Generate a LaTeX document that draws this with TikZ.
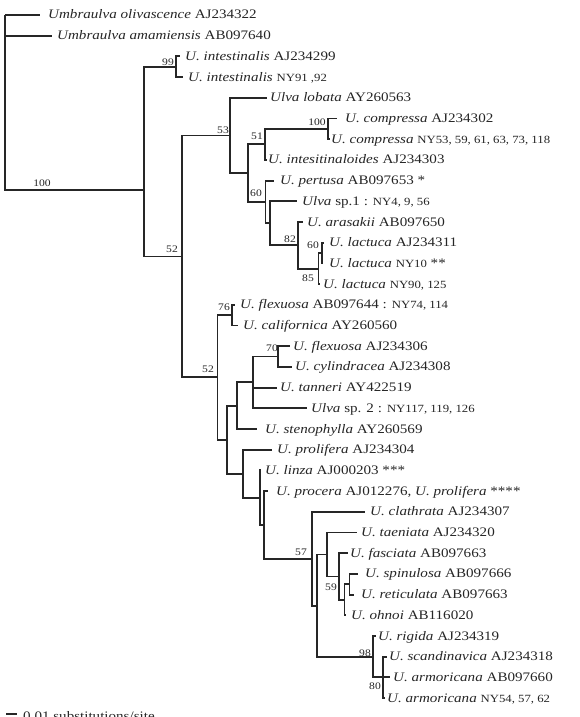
\documentclass[tikz,border=0pt]{standalone}
\usepackage{fontspec}
\setmainfont[FakeStretch=1.16]{Liberation Serif}
\newcommand\nysz{\fontsize{11}{13}\selectfont}
\definecolor{ink}{HTML}{262626}
\begin{document}
\begin{tikzpicture}[x=1pt,y=-1pt,
 br/.style={draw=ink,line width=1.85pt},
 lab/.style={anchor=base west,inner sep=0pt,text=ink,font=\fontsize{13}{15}\selectfont},
 boot/.style={anchor=center,inner sep=0pt,text=ink,font=\fontsize{10}{12}\selectfont}]
\fill[white] (0,0) rectangle (579,717);
\useasboundingbox (0,0) rectangle (579,717);
% internal nodes
\coordinate (root) at (5,15);
\coordinate (n100) at (144,190);
\coordinate (nInt) at (176,66.75);
\coordinate (n52a) at (182,256.45);
\coordinate (n53) at (230,135.5);
\coordinate (n248) at (248,173.2);
\coordinate (n51) at (265,144.4);
\coordinate (nComp) at (328,128.85);
\coordinate (n60) at (265.5,201.95);
\coordinate (nSp1) at (270,223.3);
\coordinate (n82) at (298,245.3);
\coordinate (n85) at (318.5,268.6);
\coordinate (nLac) at (322,253.05);
\coordinate (n52b) at (217.5,377.4);
\coordinate (n76) at (232,315.15);
\coordinate (n227) at (226.7,439.7);
\coordinate (nS) at (237,405.7);
\coordinate (nT) at (253,382.4);
\coordinate (n70) at (278,356.55);
\coordinate (nPro) at (243.3,473.7);
\coordinate (nL) at (260,497.65);
\coordinate (nP) at (264,524.9);
\coordinate (n57) at (311.7,558.7);
\coordinate (nQ) at (316.7,605.6);
\coordinate (nR) at (326.7,554.5);
\coordinate (n59) at (339,576.5);
\coordinate (nO) at (344.5,599.8);
\coordinate (nS2) at (349.5,584.25);
\coordinate (n98) at (373.3,656.7);
\coordinate (n80) at (383.3,677.4);
% tip ends
\coordinate (e1) at (40,15);
\coordinate (e2) at (52,35.7);
\coordinate (e3) at (180,56.4);
\coordinate (e4) at (183,77.1);
\coordinate (e5) at (267,97.8);
\coordinate (e6) at (337,118.5);
\coordinate (e7) at (330,139.2);
\coordinate (e8) at (266.5,159.9);
\coordinate (e9) at (274,180.6);
\coordinate (e10) at (297,201.3);
\coordinate (e11) at (303,222.0);
\coordinate (e12) at (324,242.7);
\coordinate (e13) at (323,263.4);
\coordinate (e14) at (320,284.1);
\coordinate (e15) at (235,304.8);
\coordinate (e16) at (238,325.5);
\coordinate (e17) at (290,346.2);
\coordinate (e18) at (292,366.9);
\coordinate (e19) at (277,387.6);
\coordinate (e20) at (307,408.3);
\coordinate (e21) at (257,429.0);
\coordinate (e22) at (272,449.7);
\coordinate (e23) at (261,470.4);
\coordinate (e24) at (268,491.1);
\coordinate (e25) at (365,511.8);
\coordinate (e26) at (357,532.5);
\coordinate (e27) at (348,553.2);
\coordinate (e28) at (358,573.9);
\coordinate (e29) at (354,594.6);
\coordinate (e30) at (346,615.3);
\coordinate (e31) at (376,636.0);
\coordinate (e32) at (387,656.7);
\coordinate (e33) at (390,677.4);
\coordinate (e34) at (385,698.1);
% branches
\draw[br] (root) |- (e1);
\draw[br] (root) |- (e2);
\draw[br] (root) |- (n100);
\draw[br] (n100) |- (nInt);
\draw[br] (n100) |- (n52a);
\draw[br] (nInt) |- (e3);
\draw[br] (nInt) |- (e4);
\draw[br] (n52a) |- (n53);
\draw[br] (n52a) |- (n52b);
\draw[br] (n53) |- (e5);
\draw[br] (n53) |- (n248);
\draw[br] (n248) |- (n51);
\draw[br] (n248) |- (n60);
\draw[br] (n51) |- (nComp);
\draw[br] (n51) |- (e8);
\draw[br] (nComp) |- (e6);
\draw[br] (nComp) |- (e7);
\draw[br] (n60) |- (e9);
\draw[br] (n60) |- (nSp1);
\draw[br] (nSp1) |- (e10);
\draw[br] (nSp1) |- (n82);
\draw[br] (n82) |- (e11);
\draw[br] (n82) |- (n85);
\draw[br] (n85) |- (nLac);
\draw[br] (n85) |- (e14);
\draw[br] (nLac) |- (e12);
\draw[br] (nLac) |- (e13);
\draw[br] (n52b) |- (n76);
\draw[br] (n52b) |- (n227);
\draw[br] (n76) |- (e15);
\draw[br] (n76) |- (e16);
\draw[br] (n227) |- (nS);
\draw[br] (n227) |- (nPro);
\draw[br] (nS) |- (nT);
\draw[br] (nS) |- (e21);
\draw[br] (nT) |- (n70);
\draw[br] (nT) |- (e19);
\draw[br] (nT) |- (e20);
\draw[br] (n70) |- (e17);
\draw[br] (n70) |- (e18);
\draw[br] (nPro) |- (e22);
\draw[br] (nPro) |- (nL);
\draw[br] (nL) |- (e23);
\draw[br] (nL) |- (nP);
\draw[br] (nP) |- (e24);
\draw[br] (nP) |- (n57);
\draw[br] (n57) |- (e25);
\draw[br] (n57) |- (nQ);
\draw[br] (nQ) |- (nR);
\draw[br] (nQ) |- (n98);
\draw[br] (nR) |- (e26);
\draw[br] (nR) |- (n59);
\draw[br] (n59) |- (e27);
\draw[br] (n59) |- (nO);
\draw[br] (nO) |- (nS2);
\draw[br] (nO) |- (e30);
\draw[br] (nS2) |- (e28);
\draw[br] (nS2) |- (e29);
\draw[br] (n98) |- (e31);
\draw[br] (n98) |- (n80);
\draw[br] (n80) |- (e32);
\draw[br] (n80) |- (e33);
\draw[br] (n80) |- (e34);
% tip labels
\node[lab] (t1) at (48,19) {\textit{Umbraulva olivascence} AJ234322};
\node[lab] (t2) at (57,39.7) {\textit{Umbraulva amamiensis} AB097640};
\node[lab] (t3) at (185,60.4) {\textit{U. intestinalis} AJ234299};
\node[lab] (t4) at (188,81.1) {\textit{U. intestinalis} {\nysz NY91 ,92}};
\node[lab] (t5) at (270,101.8) {\textit{Ulva lobata} AY260563};
\node[lab] (t6) at (345,122.5) {\textit{U. compressa} AJ234302};
\node[lab] (t7) at (331,143.2) {\textit{U. compressa} {\nysz NY53, 59, 61, 63, 73, 118}};
\node[lab] (t8) at (268,163.9) {\textit{U. intesitinaloides} AJ234303};
\node[lab] (t9) at (280,184.6) {\textit{U. pertusa} AB097653 *};
\node[lab] (t10) at (302,205.3) {\textit{Ulva} sp.1 : {\nysz NY4, 9, 56}};
\node[lab] (t11) at (307,226.0) {\textit{U. arasakii} AB097650};
\node[lab] (t12) at (329,246.7) {\textit{U. lactuca} AJ234311};
\node[lab] (t13) at (329,267.4) {\textit{U. lactuca} {\nysz NY10} **};
\node[lab] (t14) at (323,288.1) {\textit{U. lactuca} {\nysz NY90, 125}};
\node[lab] (t15) at (240,308.8) {\textit{U. flexuosa} AB097644 : {\nysz NY74, 114}};
\node[lab] (t16) at (243,329.5) {\textit{U. californica} AY260560};
\node[lab] (t17) at (293,350.2) {\textit{U. flexuosa} AJ234306};
\node[lab] (t18) at (295,370.9) {\textit{U. cylindracea} AJ234308};
\node[lab] (t19) at (280,391.6) {\textit{U. tanneri} AY422519};
\node[lab] (t20) at (311,412.3) {\textit{Ulva} sp. 2 : {\nysz NY117, 119, 126}};
\node[lab] (t21) at (265,433.0) {\textit{U. stenophylla} AY260569};
\node[lab] (t22) at (277,453.7) {\textit{U. prolifera} AJ234304};
\node[lab] (t23) at (265,474.4) {\textit{U. linza} AJ000203 ***};
\node[lab] (t24) at (276,495.1) {\textit{U. procera} AJ012276, \textit{U. prolifera} ****};
\node[lab] (t25) at (370,515.8) {\textit{U. clathrata} AJ234307};
\node[lab] (t26) at (361,536.5) {\textit{U. taeniata} AJ234320};
\node[lab] (t27) at (350,557.2) {\textit{U. fasciata} AB097663};
\node[lab] (t28) at (365,577.9) {\textit{U. spinulosa} AB097666};
\node[lab] (t29) at (361,598.6) {\textit{U. reticulata} AB097663};
\node[lab] (t30) at (351,619.3) {\textit{U. ohnoi} AB116020};
\node[lab] (t31) at (378,640.0) {\textit{U. rigida} AJ234319};
\node[lab] (t32) at (389,660.7) {\textit{U. scandinavica} AJ234318};
\node[lab] (t33) at (393,681.4) {\textit{U. armoricana} AB097660};
\node[lab] (t34) at (387,702.1) {\textit{U. armoricana} {\nysz NY54, 57, 62}};
% bootstrap values
\node[boot] (b1) at (42,183) {100};
\node[boot] (b2) at (168,62) {99};
\node[boot] (b3) at (223,130) {53};
\node[boot] (b4) at (257,136) {51};
\node[boot] (b5) at (317,122) {100};
\node[boot] (b6) at (256,193) {60};
\node[boot] (b7) at (290,239) {82};
\node[boot] (b8) at (313,245) {60};
\node[boot] (b9) at (308,278) {85};
\node[boot] (b10) at (172,249) {52};
\node[boot] (b11) at (224,307) {76};
\node[boot] (b12) at (208,369) {52};
\node[boot] (b13) at (272,348) {70};
\node[boot] (b14) at (301,552) {57};
\node[boot] (b15) at (331,587) {59};
\node[boot] (b16) at (365,653) {98};
\node[boot] (b17) at (375,686) {80};
% scale bar
\coordinate (sb1) at (6,714);
\coordinate (sb2) at (17,714);
\draw[br] (sb1) -- (sb2);
\node[lab] (sbl) at (23,720) {0.01 substitutions/site};
\end{tikzpicture}
\end{document}
